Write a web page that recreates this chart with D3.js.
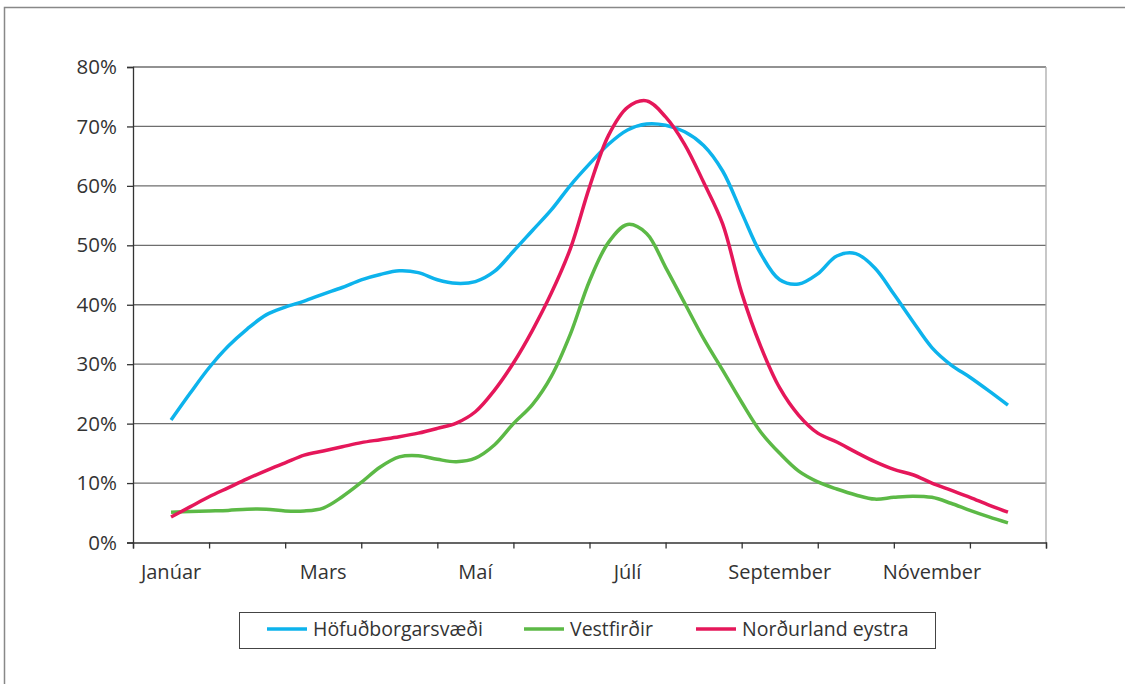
<!DOCTYPE html>
<html>
<head>
<meta charset="utf-8">
<script src="https://cdn.jsdelivr.net/npm/d3@7"></script>
<style>
  body { margin: 0; background: #fff; }
  svg { display: block; font-family: "Open Sans", sans-serif; }
</style>
</head>
<body>
<svg id="chart" width="1125" height="684"></svg>
<script>
const months = ['Janúar', 'Febrúar', 'Mars', 'Apríl', 'Maí', 'Júní', 'Júlí', 'Ágúst', 'September', 'Október', 'Nóvember', 'Desember'];
const yTicks = [0, 10, 20, 30, 40, 50, 60, 70, 80];

// values read every quarter month, from mid January to mid December
const hofudborg = [20.6, 25.1, 29.4, 33.0, 35.9, 38.3, 39.6, 40.6, 41.8, 42.9, 44.2, 45.1, 45.7, 45.4, 44.2,
  43.6, 43.9, 45.6, 49.0, 52.5, 56.0, 60.1, 63.7, 67.0, 69.4, 70.4, 70.2, 69.1, 66.8, 62.5,
  55.5, 48.6, 44.2, 43.5, 45.2, 48.2, 48.6, 46.2, 41.8, 37.2, 32.8, 29.9, 27.8, 25.5, 23.1];
const vestfirdir = [5.1, 5.2, 5.3, 5.4, 5.6, 5.6, 5.3, 5.3, 5.8, 7.7, 10.1, 12.7, 14.4, 14.6, 14.0,
  13.6, 14.2, 16.4, 20.0, 23.2, 28.0, 35.1, 44.0, 50.5, 53.5, 52.0, 46.3, 40.3, 34.3, 29.0,
  23.6, 18.6, 15.0, 12.0, 10.2, 9.0, 8.0, 7.3, 7.6, 7.8, 7.6, 6.6, 5.4, 4.3, 3.3];
const nordurland = [4.3, 6.0, 7.7, 9.2, 10.7, 12.1, 13.4, 14.7, 15.4, 16.1, 16.8, 17.3, 17.8, 18.4, 19.2,
  20.1, 22.0, 25.6, 30.2, 35.7, 42.0, 49.5, 59.8, 68.5, 73.2, 74.3, 71.6, 67.0, 60.6, 53.6,
  42.0, 33.0, 26.0, 21.4, 18.4, 16.9, 15.2, 13.6, 12.3, 11.4, 10.0, 8.8, 7.6, 6.3, 5.1];

const series = [
  { name: 'Höfuðborgarsvæði', values: hofudborg, color: '#0db3ec' },
  { name: 'Vestfirðir', values: vestfirdir, color: '#5cb946' },
  { name: 'Norðurland eystra', values: nordurland, color: '#e5175a' }
];

const svg = d3.select('#chart');

// outer frame (runs off the right and bottom edges)
svg.append('rect')
  .attr('x', 4.5).attr('y', 7.5)
  .attr('width', 1300).attr('height', 800)
  .attr('fill', 'none')
  .attr('stroke', '#888')
  .attr('stroke-width', 1.5);

const L = 133, R = 1046, T = 67, B = 542.5;
const x = d3.scaleLinear().domain([0, 12]).range([L, R]);
const y = d3.scaleLinear().domain([0, 80]).range([B, T]);

// gridlines
svg.append('g').selectAll('line').data(yTicks.slice(1)).join('line')
  .attr('x1', L).attr('x2', R)
  .attr('y1', d => y(d)).attr('y2', d => y(d))
  .attr('stroke', '#6e6e6e')
  .attr('stroke-width', 1.3);

// right border of plot
svg.append('line')
  .attr('x1', R).attr('x2', R).attr('y1', T).attr('y2', B)
  .attr('stroke', '#aaa').attr('stroke-width', 1.3);

// y axis
const yAxis = d3.axisLeft(y).tickValues(yTicks).tickSize(6).tickFormat(d => `${d}%`);
const yg = svg.append('g').attr('transform', `translate(${L},0)`).call(yAxis);
yg.select('.domain').attr('stroke', '#333').attr('stroke-width', 1.3);
yg.selectAll('.tick line').attr('stroke', '#333').attr('stroke-width', 1.3);
yg.selectAll('.tick text')
  .attr('x', -16).attr('dy', '0.32em')
  .attr('font-size', '20.5px').attr('fill', '#333')
  .attr('font-family', '"Open Sans", sans-serif');

// x axis: ticks at month boundaries, labels centred on every other month
const xAxis = d3.axisBottom(x).tickValues(d3.range(13)).tickSize(6).tickFormat('');
const xg = svg.append('g').attr('transform', `translate(0,${B})`).call(xAxis);
xg.select('.domain').attr('stroke', '#333').attr('stroke-width', 1.3);
xg.selectAll('.tick line').attr('stroke', '#333').attr('stroke-width', 1.3);

svg.append('g').selectAll('text')
  .data(months.map((m, i) => ({ m, i })).filter(d => d.i % 2 === 0))
  .join('text')
  .attr('x', d => x(d.i + 0.5))
  .attr('y', 579)
  .attr('text-anchor', 'middle')
  .attr('font-size', '20px')
  .attr('fill', '#333')
  .text(d => d.m);

// lines
const line = d3.line()
  .x((d, i) => x(0.5 + i / 4))
  .y(d => y(d))
  .curve(d3.curveCatmullRom.alpha(0.5));

svg.append('g').selectAll('path').data(series).join('path')
  .attr('d', d => line(d.values))
  .attr('fill', 'none')
  .attr('stroke', d => d.color)
  .attr('stroke-width', 3.5)
  .attr('stroke-linejoin', 'round');

// legend
const lg = svg.append('g');
lg.append('rect')
  .attr('x', 239.5).attr('y', 612.5)
  .attr('width', 696).attr('height', 36)
  .attr('fill', '#fff')
  .attr('stroke', '#444')
  .attr('stroke-width', 1);

const legendX = [267, 524, 696];
series.forEach((s, i) => {
  lg.append('line')
    .attr('x1', legendX[i]).attr('x2', legendX[i] + 40)
    .attr('y1', 629).attr('y2', 629)
    .attr('stroke', s.color).attr('stroke-width', 3.5);
  lg.append('text')
    .attr('x', legendX[i] + 46).attr('y', 636)
    .attr('font-size', '19.5px')
    .attr('fill', '#333')
    .text(s.name);
});
</script>
</body>
</html>
